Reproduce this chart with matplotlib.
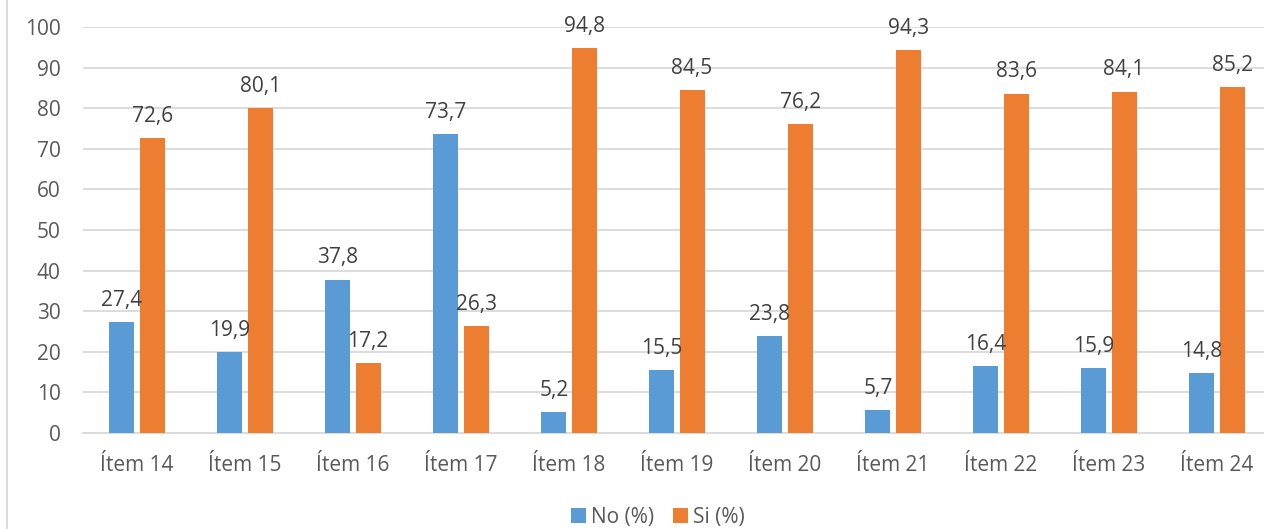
import matplotlib.pyplot as plt
import numpy as np

plt.rcParams['font.family'] = ['Open Sans', 'DejaVu Sans']

items = ['Ítem 14', 'Ítem 15', 'Ítem 16', 'Ítem 17', 'Ítem 18', 'Ítem 19',
         'Ítem 20', 'Ítem 21', 'Ítem 22', 'Ítem 23', 'Ítem 24']
no_pct = [27.4, 19.9, 37.8, 73.7, 5.2, 15.5, 23.8, 5.7, 16.4, 15.9, 14.8]
si_pct = [72.6, 80.1, 17.2, 26.3, 94.8, 84.5, 76.2, 94.3, 83.6, 84.1, 85.2]

BLUE = '#5B9BD5'
ORANGE = '#ED7D31'
TEXT = '#595959'
GRID = '#D9D9D9'

fig = plt.figure(figsize=(12.64, 5.29), dpi=100)
# plot area runs a bit past the right edge, like the source image
ax = fig.add_axes([83 / 1264, 1 - 433 / 529, 1188 / 1264, 406 / 529])

x = np.arange(len(items))
w = 0.23
bars_no = ax.bar(x - 0.14, no_pct, w, color=BLUE, label='No (%)', zorder=3)
bars_si = ax.bar(x + 0.14, si_pct, w, color=ORANGE, label='Si (%)', zorder=3)

for bars in (bars_no, bars_si):
    for b in bars:
        val = b.get_height()
        ax.annotate(f'{val:.1f}'.replace('.', ','),
                    (b.get_x() + b.get_width() / 2, val),
                    xytext=(0, 8), textcoords='offset points',
                    ha='center', va='bottom', fontsize=15, color='#404040')

ax.set_xlim(-0.5, len(items) - 0.5)
ax.set_ylim(0, 100)
ax.set_yticks(range(0, 101, 10))
ax.set_xticks(x)
ax.set_xticklabels(items)
ax.tick_params(axis='both', length=0, labelsize=15, labelcolor=TEXT)
ax.tick_params(axis='x', pad=16)
ax.tick_params(axis='y', pad=16)
ax.grid(axis='y', color=GRID, linewidth=1.3, zorder=0)
for s in ('top', 'right', 'left'):
    ax.spines[s].set_visible(False)
ax.spines['bottom'].set_color(GRID)
ax.spines['bottom'].set_linewidth(1.3)

fig.legend(loc='center', bbox_to_anchor=(658 / 1264, 1 - 517 / 529), ncol=2,
           frameon=False, fontsize=15, labelcolor=TEXT,
           handlelength=0.7, handleheight=0.7, handletextpad=0.25,
           columnspacing=0.9)

# thin chart-area border on the left
fig.add_artist(plt.Line2D([7 / 1264, 7 / 1264], [0, 1], color=GRID,
                          linewidth=1.3, transform=fig.transFigure))

fig.savefig('out.png', dpi=100)
